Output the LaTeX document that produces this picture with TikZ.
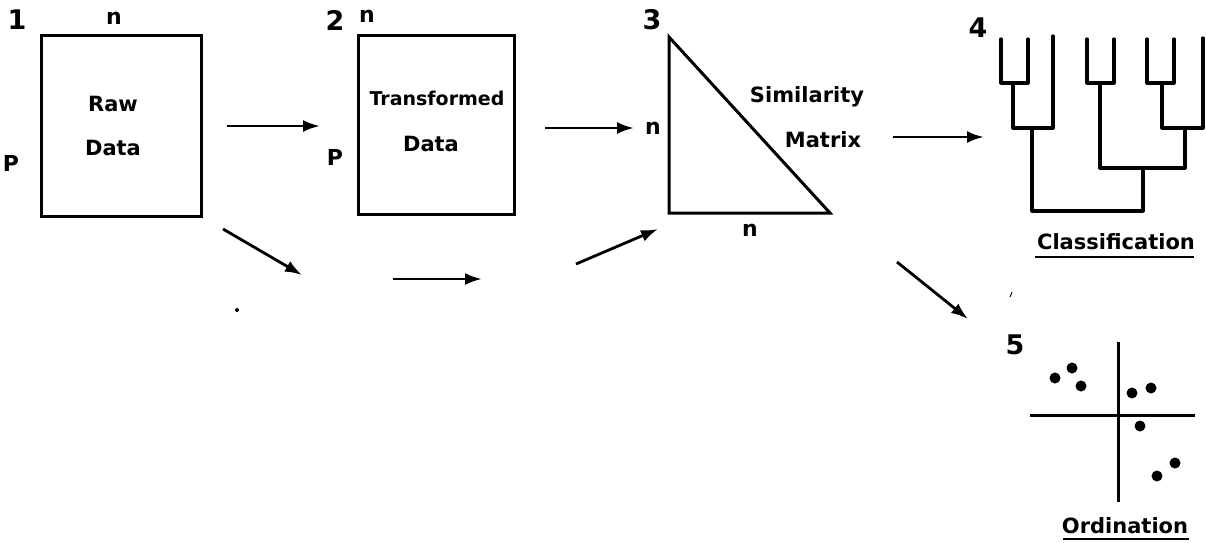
\documentclass[tikz,border=0pt]{standalone}
\usepackage{fontspec}
\setmainfont{DejaVu Sans}
\usetikzlibrary{arrows.meta}
\begin{document}
\begin{tikzpicture}[x=1pt,y=-1pt,
  lbl/.style={font=\bfseries\fontsize{21}{24}\selectfont, inner sep=0},
  big/.style={font=\bfseries\fontsize{27}{30}\selectfont, inner sep=0},
  dim/.style={font=\bfseries\fontsize{22}{24}\selectfont, inner sep=0},
  boxnode/.style={draw, line width=3pt, inner sep=0, anchor=north west},
  arr/.style={line width=2.8pt, -{Latex[length=17pt,width=12pt]}},
  tree/.style={line width=3.2pt, line cap=round, line join=round},
  dotmark/.style={fill, circle, inner sep=0, minimum size=11pt}]
\useasboundingbox (0,0) rectangle (1206,542);
% box 1
\node[boxnode, minimum width=160pt, minimum height=181pt] (raw) at (40,34) {};
\node[big] (n1) at (17,20) {1};
\node[dim] (rn) at (114,18) {n};
\node[dim] (rp) at (11,163) {P};
\node[lbl] (rawt1) at (113,104) {Raw};
\node[lbl] (rawt2) at (113,148) {Data};
% box 2
\node[boxnode, minimum width=156pt, minimum height=179pt] (trf) at (357,34) {};
\node[big] (n2) at (335,20) {2};
\node[dim] (tn) at (367,16) {n};
\node[dim] (tp) at (335,157) {P};
\node[lbl, font=\bfseries\fontsize{19}{22}\selectfont] (trft1) at (437,98) {Transformed};
\node[lbl] (trft2) at (431,144) {Data};
% triangle
\coordinate (ta) at (669,37);
\coordinate (tb) at (669,213);
\coordinate (tc) at (830,213);
\draw[line width=3pt, line join=miter] (ta) -- (tb) -- (tc) -- cycle;
\node[big] (n3) at (652,20) {3};
\node[dim] (sn1) at (653,128) {n};
\node[dim] (sn2) at (750,230) {n};
\node[lbl] (sim1) at (807,97) {Similarity};
\node[lbl] (sim2) at (823,140) {Matrix};
% arrows top row
\coordinate (a1s) at (227,126); \coordinate (a1e) at (320,126);
\coordinate (a2s) at (545,128); \coordinate (a2e) at (634,128);
\coordinate (a3s) at (893,137); \coordinate (a3e) at (984,137);
\draw[arr] (a1s) -- (a1e);
\draw[arr] (a2s) -- (a2e);
\draw[arr] (a3s) -- (a3e);
% lower arrows
\coordinate (b1s) at (223,229); \coordinate (b1e) at (302,275);
\coordinate (b2s) at (393,279); \coordinate (b2e) at (482,279);
\coordinate (b3s) at (576,264); \coordinate (b3e) at (658,229);
\coordinate (b4s) at (897,262); \coordinate (b4e) at (968,319);
\draw[arr] (b1s) -- (b1e);
\draw[arr] (b2s) -- (b2e);
\draw[arr] (b3s) -- (b3e);
\draw[arr] (b4s) -- (b4e);
\fill (237,310) circle (2);
\draw[line width=0.9pt] (1012,292) -- (1010,297);
% dendrogram
\node[big] (n4) at (978,28) {4};
\draw[tree] (1001,39) -- (1001,83) -- (1028,83) -- (1028,39);
\draw[tree] (1013,83) -- (1013,128) -- (1053,128) -- (1053,36);
\draw[tree] (1087,39) -- (1087,83) -- (1114,83) -- (1114,39);
\draw[tree] (1147,39) -- (1147,83) -- (1174,83) -- (1174,39);
\draw[tree] (1162,83) -- (1162,128) -- (1203,128) -- (1203,38);
\draw[tree] (1100,83) -- (1100,168) -- (1185,168) -- (1185,128);
\draw[tree] (1032,128) -- (1032,211) -- (1143,211) -- (1143,168);
\node[lbl] (cls) at (1116,242) {Classification};
\draw[line width=2.4pt] (1035,257) -- (1194,257);
% ordination
\node[big] (n5) at (1015,345) {5};
\coordinate (vx1) at (1118,342); \coordinate (vx2) at (1118,502);
\coordinate (hx1) at (1030,415); \coordinate (hx2) at (1195,415);
\draw[line width=3pt] (vx1) -- (vx2);
\draw[line width=3pt] (hx1) -- (hx2);
\node[dotmark] (d1) at (1055,378) {};
\node[dotmark] (d2) at (1072,368) {};
\node[dotmark] (d3) at (1081,386) {};
\node[dotmark] (d4) at (1132,393) {};
\node[dotmark] (d5) at (1151,388) {};
\node[dotmark] (d6) at (1140,426) {};
\node[dotmark] (d7) at (1175,463) {};
\node[dotmark] (d8) at (1157,476) {};
\node[lbl] (ord) at (1125,526) {Ordination};
\draw[line width=2.4pt] (1063,539) -- (1189,539);
\end{tikzpicture}
\end{document}
